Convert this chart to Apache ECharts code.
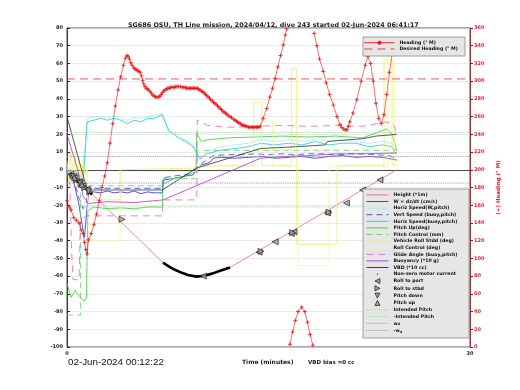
<!DOCTYPE html>
<html><head><meta charset="utf-8">
<script src="https://cdn.jsdelivr.net/npm/echarts@6/dist/echarts.min.js"></script>
<style>html,body{margin:0;padding:0;background:#fff}#c{width:520px;height:390px}</style>
</head><body><div id="c"></div>
<script>
// ---------- data (time in minutes) ----------
const titleText = 'SG686 OSU, TH Line mission, 2024/04/12, dive 243 started 02-Jun-2024 06:41:17';
const xTicks = [0, 30];

const heightT = [0, 7.15, 7.6, 8.0, 8.5, 9.0, 9.66, 10.2, 10.8, 11.4, 12.14, 24.55];
const heightV = [0, -52.4, -54.6, -56.3, -58, -59.4, -60.3, -59.8, -58.6, -57, -55.1, 0];

const wT = [0,0.3,0.6,0.9,1.1,1.3,1.45,1.6,2,2.5,3,3.5,4,4.5,5,5.5,6,6.5,7.1,7.17,8,8.8,9.4,9.66,10,10.6,10.9,11.5,12.5,13.5,14.5,15.5,16.5,17.5,18.5,19.5,20.5,21.5,22.5,23.5,24.2,24.55];
const wV = [0,-2,-10,-20,-30,-38,-25,-13,-12.5,-13,-12,-13,-12.5,-13,-12,-13.5,-12.5,-13,-13,-5.8,-4.8,-3.5,-2.9,0.8,2.7,4,6.6,7,6.5,7,7.5,6.5,7,7.5,6.5,7.5,8,7,7.5,7,6,5.5];

const hsWT = [0,0.5,0.9,1.2,1.35,1.5,2,2.5,3,3.5,4,4.5,5,5.5,6,6.5,7.07,7.3,7.57,8.3,8.8,9.4,9.9,10.4,11.4,12.5,13.5,14.4,15.5,16.5,17.5,18.5,19.5,20.5,21.5,22.5,23.5,24.2,24.5];
const hsWV = [0,0,-2,-5,14,29,30,30,29.5,30.5,29,28,29.5,29,30,30.5,32,28,23,19,17,14,7,10,13,14,15,17,16,17,16,17,16,17,16,15,16,15,11];

const vsBT = [0,0.3,0.6,0.9,1.2,1.45,1.6,2,3,4,5,6,7.1,7.17,8,9,9.66,10,10.9,12,13,14,15,16,17,18,19,20,21,22,23,24,24.55];
const vsBV = [0,-1,-8,-16,-22,-18,-11,-10.5,-10.5,-10.5,-10.5,-10.5,-10.5,-4.5,-3.5,-2.5,1.5,3.5,8,8.5,8.5,9,8.5,9,8.5,9,9,8.5,9,9,8.5,8,6];

const hsBT = [0,0.5,0.9,1.2,1.35,1.5,2,2.5,3,3.5,4,4.5,5,5.5,6,6.5,7.07,7.3,7.57,8.3,8.8,9.4,9.9,10.4,11.4,12.5,13.5,14.4,15.5,16.5,17.5,18.5,19.5,20.5,21.5,22.5,23.5,24.2,24.5];
const hsBV = [0,0,-3,-7,10,27,28,29,28,29,28,26,28,27,29,29,31,27,22,18,16,13,6,9,11,12,13,15,14,15,14,16,14,15,15,13,14,13,9];

const pitchT = [0,0.3,0.6,0.9,1.1,1.3,1.45,1.55,2,3,4,5,6,7.1,7.15,8,9,9.6,9.66,10,10.5,12,14,16,18,20,22,23.8,24.2,24.55];
const pitchV = [-64,-72,-68,-71,-73,-74,-72,-23,-21,-22,-21.5,-22,-21,-21,-8,-5,-3,-1,20.6,16,17,18,18.5,19,18.5,19,18,23,20,11];

const pcT = [0,1.0,1.0,7.1,7.15,9.66,9.7,24.55];
const pcV = [-82,-82,-9,-9,-5,-5,11,11];

const rollT = [0,0.15,0.3,0.45,0.6,0.75,0.9,1.05,1.2,1.35,1.5,1.5,3.95,3.95,7,9.66,10,12,13.9,13.9,14.5,14.5,16.7,16.7,17.1,17.1,20.1,20.1,23.6,23.6,24.2,24.2,24.55];
const rollV = [5,-8,12,-6,10,-10,8,-5,6,-3,0,-17,-17,0,0.5,1,2,2.5,2.5,38,38,2.5,2.5,57,57,-42,-42,2.5,2.5,62,62,3,3];

const rcT = [0,1.5,1.6,3.95,4.0,9.66,9.7,14.2,14.2,15.3,15.3,17.2,17.2,19.5,19.5,23.9,23.9,24.4,24.4];
const rcV = [0,0,-40,-40,-1,-1,2,2,27,27,2,2,-54,-54,2,2,65,65,2];

const glideT = [0,0.2,0.35,0.45,0.9,1.0,1.5,7.1,7.15,9.66,9.7,10.5,12,14,16,18,20,22,23.8,24.3,24.55];
const glideV = [0,-5,-47,-62,-62,-28,-26,-26,-17,-17,28,25,24,24.5,25,24.5,25,24.5,27,26,20];

const buoyT = [0,0.8,1.2,1.6,3,5,7.17,14.4,16,18,20,22,24.55];
const buoyV = [20,0,-15,-19,-18,-18.5,-17,6.5,7.5,8,9,9,9.5];

const vbdT = [0,1.5,7.1,9.66,14.4,17,19.2,19.4,22,23,24.55];
const vbdV = [30,-11.4,-11.4,1,12,13,14,16,17.5,19,20];

const motorT = [0.22,0.6,1.0,1.4,1.86,null,7.15,7.6,8.0,8.5,9.0,9.66,10.2,10.8,11.4,12.14];
const motorV = [-2.9,-5,-7.6,-10.3,-14,null,-52.4,-54.6,-56.3,-58,-59.4,-60.3,-59.8,-58.6,-57,-55.1];

const portT = [0.3,0.6,0.9,1.2,1.5,10.15,14.3,15.5,16.7,16.9,19.4,20.8,22.0,23.3];
const portV = [-2.5,-4.5,-6.8,-9,-11,-60,-46.5,-40.6,-36,-35,-24.4,-18.7,-11.4,-5.7];
const stbdT = [0.45,0.75,1.05,1.35,1.7,4.1,14.45,16.8,19.5];
const stbdV = [-3.5,-5.6,-7.8,-10,-12.5,-28,-46,-35.5,-24];
const pdownT = [0.5,1.0,1.6];
const pdownV = [-3.9,-7.5,-12];
const pupT = [0.55,1.1];
const pupV = [-4.3,-8.2];

const ipT = [0,30];
const ipV = [21,21];
const nipV = [-21,-21];
const wdV = [7.5,7.5];
const nwdV = [-7.5,-7.5];

const headT = [0,0.15,0.3,0.5,0.7,0.9,1.05,1.2,1.3,1.4,1.5,1.6,1.8,2.0,2.2,2.4,2.6,2.8,3.0,3.2,3.4,3.6,3.8,4.0,4.2,4.35,4.47,4.55,4.65,4.75,4.85,4.97,5.05,5.15,5.25,5.35,5.46,5.55,5.63,5.71,5.8,5.9,6.0,6.08,6.2,6.3,6.4,6.5,6.6,6.7,6.83,6.92,7.0,7.1,7.2,7.3,7.4,7.5,7.6,7.7,7.8,7.9,8.0,8.1,8.2,8.32,8.45,8.6,8.7,8.8,8.9,9.0,9.1,9.2,9.3,9.4,9.5,9.6,9.7,9.8,9.9,10.0,10.1,10.2,10.3,10.4,10.5,10.6,10.7,10.8,10.9,11.0,11.1,11.2,11.3,11.4,11.5,11.6,11.7,11.8,11.9,12.0,12.13,12.25,12.4,12.5,12.6,12.7,12.8,12.9,13.0,13.1,13.2,13.3,13.4,13.5,13.6,13.7,13.8,13.9,14.0,14.1,14.2,14.3,14.37,14.6,14.87,15.1,15.3,15.49,15.7,15.9,16.1,16.25,16.36,null,16.6,16.8,17.0,17.2,17.47,17.7,17.9,18.1,18.3,null,18.4,18.6,18.8,19.08,19.3,19.55,19.83,20.1,20.32,20.45,20.6,20.72,20.84,20.95,21.05,21.29,21.57,21.9,22.2,22.4,22.6,22.8,23.0,23.2,23.4,23.6,23.8,24.0,24.2,24.4];
const headV = [165,158,155,146,143,140,132,128,118,110,105,121,128,138,150,165,180,193,208,230,252,272,290,305,318,326,329,328,325,321,318,315,314,313,312,311,310,306,301,297,294,292,291,290,288,286,284,283,282,282,282,283,285,287,289,290,291,292,292,293,293,293,293,294,294,294,294,293,293,293,292,292,292,292,292,292,292,292,292,291,290,289,288,287,285,284,282,281,279,278,276,275,274,272,271,269,268,266,265,264,263,261,260,259,257,256,255,254,253,252,251,250,250,249,249,248,248,248,248,248,248,248,248,248,249,258,269,282,292,303,316,329,341,352,359,null,3,17,30,40,45,40,28,14,2,null,354,340,325,311,298,285,273,260,251,248,246,245,245,249,254,264,279,300,318,328,320,300,275,258,252,262,285,310,330,345];

const dhT = [0,30];
const dhV = [302.5,302.5];

// ---------- helpers ----------
const F = 'DejaVu Sans';
function P(t, v){ return t.map((x,i)=> (x===null||v[i]===null) ? [null,'-'] : [x, v[i]]); }
function line(name, t, v, color, width, type, extra){
  return Object.assign({name, type:'line', data:P(t,v), symbol:'none', silent:true, animation:false,
    lineStyle:{color, width, type: type||'solid'}, itemStyle:{color}, z:2}, extra||{});
}
const triPort = 'path://M10,0L0,5L10,10Z';
const triStbd = 'path://M0,0L10,5L0,10Z';
const triDown = 'path://M0,0L10,0L5,10Z';
const triUp   = 'path://M5,0L10,10L0,10Z';
function tri(name, t, v, shape){
  return {name, type:'scatter', data:P(t,v), symbol:shape, symbolSize:6, symbolKeepAspect:true, silent:true, animation:false,
    itemStyle:{color:'#a0a0a0', borderColor:'#111', borderWidth:0.8}, z:4};
}
const plusPath = 'path://M5,0L5,10M0,5L10,5';
const dotPath = 'path://M0,0L0,0.01M10,10L10,10.01M3.8,5A1.2,1.2 0 1,0 6.2,5A1.2,1.2 0 1,0 3.8,5Z';

const series = [
  line('Height (*1m)', heightT, heightV, '#e8707a', 0.8),
  line('W = dz/dt (cm/s)', wT, wV, '#2a2ad8', 0.8),
  line('Horiz Speed(W,pitch)', hsWT, hsWV, '#7fe4f0', 1.1, 'dotted'),
  line('Vert Speed (buoy,pitch)', vsBT, vsBV, '#4040e8', 0.8, [6,4]),
  line('Horiz Speed(buoy,pitch)', hsBT, hsBV, '#22c4d6', 0.8),
  line('Pitch Up(deg)', pitchT, pitchV, '#30d030', 0.8),
  line('Pitch Control (mm)', pcT, pcV, '#60d060', 0.8, [6,4]),
  line('Vehicle Roll Stdd (deg)', rollT, rollV, '#eeee66', 0.8),
  line('Roll Control (deg)', rcT, rcV, '#f4f4a8', 0.8),
  line('Glide Angle (buoy,pitch)', glideT, glideV, '#e060e0', 0.8, [7,5]),
  line('Buoyancy (*10 g)', buoyT, buoyV, '#b030e0', 0.8),
  line('VBD (*10 cc)', vbdT, vbdV, '#303030', 0.8),
  line('Non-zero motor current', motorT, motorV, '#000', 2.6, 'solid', {z:3}),
  tri('Roll to port', portT, portV, triPort),
  tri('Roll to stbd', stbdT, stbdV, triStbd),
  tri('Pitch down', pdownT, pdownV, triDown),
  tri('Pitch up', pupT, pupV, triUp),
  line('Intended Pitch', ipT, ipV, '#9ad49a', 0.9, 'dotted'),
  line('-Intended Pitch', ipT, nipV, '#9ad49a', 0.9, 'dotted'),
  line('w_d', ipT, wdV, '#8a8aa8', 0.9, 'dotted'),
  line('-w_d', ipT, nwdV, '#8a8aa8', 0.9, 'dotted'),
  Object.assign(line('Heading (\u00b0 M)', headT, headV, '#ee1111', 0.6), {
    yAxisIndex:1, symbol:plusPath, showSymbol:true, symbolSize:4,
    itemStyle:{color:'#ee1111', borderColor:'#ee1111', borderWidth:0.8}, z:3}),
  line('Desired Heading (\u00b0 M)', dhT, dhV, '#e03030', 0.8, [8,5], {yAxisIndex:1})
];
const markerIcon = {'Roll to port':triPort, 'Roll to stbd':triStbd, 'Pitch down':triDown, 'Pitch up':triUp};
const legendItems = series.slice(0,21).map(s=>{
  if (s.name === 'Non-zero motor current') return {name:s.name, icon:dotPath, itemStyle:{opacity:1, color:'#000', borderWidth:0}};
  if (s.name in markerIcon) return {name:s.name, icon:markerIcon[s.name], itemStyle:{opacity:1, color:'#a0a0a0', borderColor:'#111', borderWidth:0.7}};
  return {name:s.name};
});

const chart = echarts.init(document.getElementById('c'), null, {renderer:'canvas'});
const lbl = {fontSize:5, fontWeight:'bold', fontFamily:F};
const legText = {fontSize:4.7, fontWeight:'bold', fontFamily:F, color:'#111', lineHeight:4,
  rich:{s:{fontSize:3.3, fontWeight:'bold', fontFamily:F, color:'#111', lineHeight:4, padding:[2.5,0,0,0]}}};
chart.setOption({
  animation:false,
  backgroundColor:'#fff',
  title:{text:titleText, left:123, top:17, textStyle:{fontSize:6.4, fontWeight:'bold', fontFamily:F, color:'#222'}},
  grid:{left:67, right:50, top:28, bottom:43, show:true, borderColor:'#222', borderWidth:0.8},
  xAxis:{type:'value', min:xTicks[0], max:xTicks[1], interval:30,
    axisLine:{lineStyle:{color:'#222', width:0.8}}, axisTick:{show:false}, splitLine:{show:false},
    axisLabel:Object.assign({color:'#222', margin:4}, lbl)},
  yAxis:[
    {type:'value', min:-100, max:80, interval:10,
     axisLine:{show:true, lineStyle:{color:'#222', width:0.8}}, axisTick:{show:true, inside:true, length:3, lineStyle:{color:'#222'}},
     splitLine:{show:true, lineStyle:{color:'#dcdcdc', width:0.6}},
     axisLabel:Object.assign({color:'#222', margin:4}, lbl)},
    {type:'value', min:0, max:360, interval:20, position:'right',
     name:'(+) Heading (\u00b0 M)', nameLocation:'middle', nameRotate:90, nameGap:15,
     nameTextStyle:{color:'#e8202a', fontSize:5.5, fontWeight:'bold', fontFamily:F},
     axisLine:{show:true, lineStyle:{color:'#8b1a1a', width:0.8}}, axisTick:{show:true, inside:false, length:3, lineStyle:{color:'#8b1a1a'}},
     splitLine:{show:false},
     axisLabel:Object.assign({color:'#e8202a', margin:4}, lbl)}
  ],
  legend:[
    {data:legendItems, orient:'vertical', left:361, top:187.4, itemWidth:22, itemHeight:5, itemGap:1.6,
     symbolKeepAspect:true, itemStyle:{opacity:0}, lineStyle:{width:0.9}, selectedMode:false, z:20, textStyle:legText,
     formatter: n => n==='w_d' ? 'w{s|d}' : (n==='-w_d' ? '-w{s|d}' : n)},
    {data:[{name:'Heading (\u00b0 M)'},{name:'Desired Heading (\u00b0 M)', itemStyle:{opacity:0}}], orient:'vertical', left:359, top:34.7, itemWidth:30, itemHeight:5, itemGap:0.8,
     symbolKeepAspect:true, lineStyle:{width:0.9}, selectedMode:false, z:20, textStyle:legText}
  ],
  graphic:[
    {type:'rect', shape:{x:363, y:189, width:106, height:149}, style:{fill:'#e6e6e6', stroke:'#888', lineWidth:0.8}, z:15, silent:true},
    {type:'rect', shape:{x:363, y:37, width:102, height:19}, style:{fill:'#e6e6e6', stroke:'#888', lineWidth:0.8}, z:15, silent:true},
    {type:'text', left:68, top:357.5, style:{text:'02-Jun-2024 00:12:22', fontSize:9.8, fontFamily:'Liberation Sans', fill:'#111'}, z:15},
    {type:'text', left:242, top:359, style:{text:'Time (minutes)', fontSize:6, fontWeight:'bold', fontFamily:F, fill:'#222'}, z:15},
    {type:'text', left:308, top:359.5, style:{text:'VBD bias =0 cc', fontSize:5.5, fontWeight:'bold', fontFamily:F, fill:'#222'}, z:15}
  ],
  series
});
</script></body></html>
